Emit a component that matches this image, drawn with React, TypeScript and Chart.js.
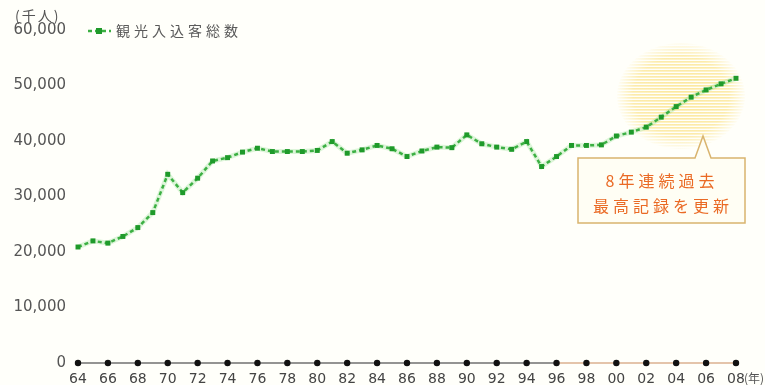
import React, { useEffect, useRef } from "react";
import { Chart, registerables } from "chart.js";
Chart.register(...registerables);

const yearLabels = [
  "1964","1965","1966","1967","1968","1969","1970","1971","1972","1973",
  "1974","1975","1976","1977","1978","1979","1980","1981","1982","1983",
  "1984","1985","1986","1987","1988","1989","1990","1991","1992","1993",
  "1994","1995","1996","1997","1998","1999","2000","2001","2002","2003",
  "2004","2005","2006","2007","2008",
];
const xTickLabels = [
  "64","","66","","68","","70","","72","",
  "74","","76","","78","","80","","82","",
  "84","","86","","88","","90","","92","",
  "94","","96","","98","","00","","02","",
  "04","","06","","08",
];
// 観光入込客総数 (千人)
const visitors = [
  20900, 22000, 21600, 22800, 24400, 27100, 34000, 30700, 33300, 36400,
  37000, 38000, 38700, 38100, 38100, 38100, 38300, 39900, 37800, 38400,
  39200, 38600, 37200, 38200, 38900, 38800, 41100, 39500, 38900, 38500,
  39900, 35400, 37200, 39200, 39200, 39300, 40900, 41600, 42500, 44300,
  46200, 47900, 49200, 50300, 51300,
];
const baseline = [
  0, null, 0, null, 0, null, 0, null, 0, null,
  0, null, 0, null, 0, null, 0, null, 0, null,
  0, null, 0, null, 0, null, 0, null, 0, null,
  0, null, 0, null, 0, null, 0, null, 0, null,
  0, null, 0, null, 0,
];
const yMin = 0;
const yMax = 60000;
const yStep = 10000;
const legendLabel = "観光入込客総数";
const yUnit = "(千人)";
const xUnit = "(年)";
const calloutLines = ["8年連続過去", "最高記録を更新"];

const CJK = '"Noto Sans CJK JP", "Noto Sans", sans-serif';
const NUM = '"DejaVu Sans", sans-serif';

const decorPlugin = {
  id: "decor",
  beforeDraw(chart: any) {
    const ctx = chart.ctx;
    ctx.save();
    ctx.fillStyle = "#fffffa";
    ctx.fillRect(0, 0, chart.width, chart.height);
    ctx.restore();
  },
  beforeDatasetsDraw(chart: any) {
    const ctx = chart.ctx;
    // striped yellow highlight ellipse
    const cx = 681, cy = 96, rx = 64, ry = 53;
    ctx.save();
    ctx.beginPath();
    ctx.ellipse(cx, cy, rx, ry, 0, 0, Math.PI * 2);
    ctx.clip();
    ctx.translate(cx, cy);
    ctx.scale(1, ry / rx);
    const g = ctx.createRadialGradient(0, 0, 0, 0, 0, rx);
    g.addColorStop(0, "rgba(250,216,95,0.6)");
    g.addColorStop(0.75, "rgba(250,216,95,0.5)");
    g.addColorStop(1, "rgba(250,216,95,0.05)");
    ctx.fillStyle = g;
    const step = 3 * (rx / ry);
    for (let y = -rx; y < rx; y += step) {
      ctx.fillRect(-rx, y, 2 * rx, step * 0.55);
    }
    ctx.restore();
  },
  afterDraw(chart: any) {
    const ctx = chart.ctx;
    ctx.save();
    // unit labels
    ctx.fillStyle = "#555";
    ctx.textBaseline = "middle";
    ctx.textAlign = "left";
    ctx.font = `14px ${CJK}`;
    (ctx as any).letterSpacing = "2px";
    ctx.fillText(yUnit, 15, 16);
    ctx.font = `12px ${CJK}`;
    (ctx as any).letterSpacing = "0px";
    ctx.fillText(xUnit, 744, 378);

    // legend
    const ly = 31;
    ctx.strokeStyle = "#3cb043";
    ctx.lineWidth = 2.5;
    ctx.setLineDash([4, 3]);
    ctx.beginPath();
    ctx.moveTo(88, ly);
    ctx.lineTo(111, ly);
    ctx.stroke();
    ctx.setLineDash([]);
    ctx.fillStyle = "#1f9a2a";
    ctx.fillRect(96, ly - 3, 6, 6);
    ctx.fillStyle = "#5a5a5a";
    ctx.font = `14px ${CJK}`;
    (ctx as any).letterSpacing = "4px";
    ctx.fillText(legendLabel, 116, ly);

    // callout box
    const bx = 578, by = 158, bw = 167, bh = 65;
    ctx.fillStyle = "#fffef4";
    ctx.strokeStyle = "#d9b46e";
    ctx.lineWidth = 1.5;
    ctx.beginPath();
    ctx.moveTo(bx, by);
    ctx.lineTo(695, by);
    ctx.lineTo(703, 136);
    ctx.lineTo(711, by);
    ctx.lineTo(bx + bw, by);
    ctx.lineTo(bx + bw, by + bh);
    ctx.lineTo(bx, by + bh);
    ctx.closePath();
    ctx.fill();
    ctx.stroke();
    ctx.fillStyle = "#ea6a25";
    ctx.font = `16px ${CJK}`;
    (ctx as any).letterSpacing = "4px";
    ctx.textAlign = "center";
    ctx.fillText(calloutLines[0], 662, 181);
    ctx.fillText(calloutLines[1], 663, 206);
    ctx.restore();
  },
};

export default function App() {
  const ref = useRef<HTMLCanvasElement | null>(null);
  useEffect(() => {
    if (!ref.current) return;
    const chart = new Chart(ref.current, {
      type: "line",
      data: {
        labels: yearLabels,
        datasets: [
          {
            label: legendLabel,
            data: visitors,
            borderColor: "#3cb043",
            borderWidth: 2.5,
            borderDash: [4, 3],
            pointStyle: "rect",
            pointRadius: 3.5,
            pointBackgroundColor: "#1f9a2a",
            pointBorderColor: "#1f9a2a",
            pointBorderWidth: 0,
            tension: 0,
            clip: false as any,
            order: 1,
          },
          {
            label: "halo",
            data: visitors,
            borderColor: "rgba(120,215,120,0.25)",
            borderWidth: 5,
            pointRadius: 0,
            tension: 0,
            clip: false as any,
            order: 2,
          },
          {
            label: "base",
            data: baseline as any,
            spanGaps: true,
            borderColor: "#2a2a2a",
            borderWidth: 1.2,
            pointRadius: 2.6,
            pointBackgroundColor: "#111",
            pointBorderColor: "#111",
            segment: {
              borderColor: (c: any) => (c.p0DataIndex >= 32 ? "#c98a5a" : "#2a2a2a"),
            },
            clip: false as any,
            order: 0,
          },
        ],
      },
      options: {
        responsive: false,
        animation: false,
        devicePixelRatio: 1,
        layout: { padding: { top: 30, right: 29, bottom: 0, left: 0 } },
        plugins: { legend: { display: false }, tooltip: { enabled: false } },
        scales: {
          x: {
            type: "category",
            offset: false,
            grid: { display: false, drawTicks: false },
            border: { display: false },
            ticks: {
              autoSkip: false,
              maxRotation: 0,
              padding: 8,
              color: "#444",
              font: { family: NUM, size: 14 },
              callback: (_v: any, i: number) => xTickLabels[i],
            },
            afterFit: (s: any) => {
              s.height = 22;
            },
          },
          y: {
            min: yMin,
            max: yMax,
            grid: { display: false, drawTicks: false },
            border: { display: false },
            ticks: {
              stepSize: yStep,
              padding: 12,
              color: "#555",
              font: { family: NUM, size: 15 },
              callback: (v: any) => Number(v).toLocaleString("en-US"),
            },
            afterFit: (s: any) => {
              s.width = 78;
            },
          },
        },
      },
      plugins: [decorPlugin],
    });
    return () => chart.destroy();
  }, []);
  return (
    <div style={{ position: "fixed", left: 0, top: 0, width: 765, height: 385, background: "#fffffa" }}>
      <canvas ref={ref} width={765} height={385} style={{ display: "block" }} />
    </div>
  );
}
